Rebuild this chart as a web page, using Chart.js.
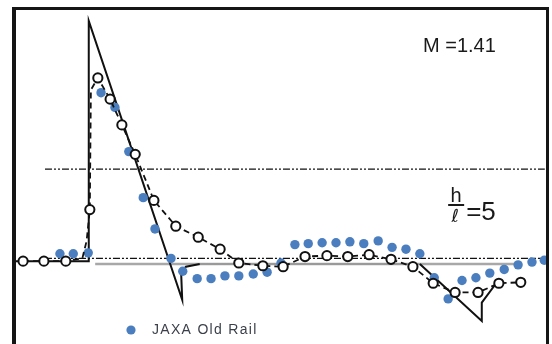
<!DOCTYPE html>
<html>
<head>
<meta charset="utf-8">
<script src="https://cdn.jsdelivr.net/npm/chart.js@4/dist/chart.umd.min.js"></script>
<style>
  html, body { margin: 0; padding: 0; background: #fff; }
  #wrap { width: 552px; height: 344px; position: relative; }
</style>
</head>
<body>
<div id="wrap"><canvas id="c"></canvas></div>
<script>
// Pressure signature, M = 1.41, h/l = 5  (x: station, y: normalised overpressure)

// Theoretical N-wave (solid line)
const theoryX = [0, 13.9, 14.0, 31.5, 31.3, 32.2, 34.8, 76.0, 87.6, 87.6, 90.3];
const theoryY = [0, 0, 2.61, -0.42, -0.13, -0.06, -0.03, -0.03, -0.65, -0.45, -0.24];

// Earlier measurement (open circles, dashed line); vertices without a marker are
// bends of the faired curve
const circleX = [1.7, 5.6, 9.7, 12.8, 13.6, 14.2, 14.4, 15.7, 18.0, 20.2, 22.7, 26.2, 30.3, 34.5, 38.6, 42.1,
                 46.6, 50.4, 54.5, 58.6, 62.5, 66.5, 70.6, 74.7, 78.5, 82.6, 86.9, 90.8, 94.9];
const circleY = [0, 0, 0, 0.03, 0.22, 0.56, 1.86, 1.99, 1.76, 1.48, 1.16, 0.66, 0.38, 0.26, 0.13, -0.02,
                 -0.05, -0.06, 0.05, 0.06, 0.05, 0.07, 0.02, -0.06, -0.24, -0.34, -0.34, -0.24, -0.23];
const circleMarked = [1, 1, 1, 0, 0, 1, 0, 1, 1, 1, 1, 1, 1, 1, 1, 1,
                      1, 1, 1, 1, 1, 1, 1, 1, 1, 1, 1, 1, 1];

// JAXA Old Rail measurement (blue dots)
const jaxaX = [8.6, 11.1, 13.9, 16.3, 18.9, 21.5, 24.2, 26.4, 29.4, 31.6, 34.3, 36.9, 39.5, 42.1,
               44.8, 47.4, 50.0, 52.6, 55.1, 57.7, 60.3, 62.9, 65.5, 68.2, 70.8, 73.4, 76.0, 78.7,
               81.3, 83.9, 86.5, 89.1, 91.8, 94.4, 97.0, 99.3];
const jaxaY = [0.08, 0.08, 0.09, 1.83, 1.67, 1.19, 0.69, 0.35, 0.03, -0.11, -0.19, -0.19, -0.16, -0.16,
               -0.14, -0.12, -0.02, 0.18, 0.19, 0.20, 0.20, 0.21, 0.19, 0.22, 0.15, 0.13, 0.08, -0.18,
               -0.41, -0.21, -0.18, -0.13, -0.09, -0.04, -0.01, 0.01];

// Reference levels (dash-dot-dot) and the grey zero line
const refLevels = [1.0, 0.03];
const refSpan = [5.8, 99.4];
const zeroLineSpan = [15.2, 94.4];
const zeroLineLevel = -0.03;

const labelSeries = 'JAXA Old Rail';
const machLabel = 'M =1.41';

const pts = (xs, ys) => xs.map((x, i) => ({ x, y: ys[i] }));

const datasets = [
  {
    label: 'circles',
    data: pts(circleX, circleY),
    showLine: true,
    borderColor: '#111',
    borderWidth: 1.8,
    borderDash: [6, 4],
    pointRadius: circleMarked.map(m => m ? 4.6 : 0),
    pointBorderWidth: circleMarked.map(m => m ? 2 : 0),
    pointBorderColor: '#111',
    pointBackgroundColor: '#fff',
    order: 0
  },
  {
    label: labelSeries,
    data: pts(jaxaX, jaxaY),
    showLine: false,
    pointRadius: 4.7,
    pointBorderWidth: 0,
    pointBackgroundColor: '#4a7ebf',
    order: 1
  },
  {
    label: 'theory',
    data: pts(theoryX, theoryY),
    showLine: true,
    borderColor: '#111',
    borderWidth: 2,
    pointRadius: 0,
    segment: {
      borderColor: ctx => ctx.p0DataIndex === 6 ? '#9a9a9a' : '#111'
    },
    order: 2
  },
  {
    label: 'zero',
    data: pts(zeroLineSpan, [zeroLineLevel, zeroLineLevel]),
    showLine: true,
    borderColor: '#a8a8a8',
    borderWidth: 2.5,
    pointRadius: 0,
    order: 3
  }
];
refLevels.forEach((lv, i) => datasets.push({
  label: 'ref' + i,
  data: pts(refSpan, [lv, lv]),
  showLine: true,
  borderColor: '#111',
  borderWidth: 1.4,
  borderDash: [7, 2, 2, 2, 2, 2],
  pointRadius: 0,
  order: 4
}));

// Frame, annotations and legend entry
const decor = {
  id: 'decor',
  afterDraw(chart) {
    const { ctx, scales: { x, y } } = chart;
    ctx.save();
    // frame: left, top, right
    ctx.fillStyle = '#151515';
    ctx.fillRect(12, 7, 4, 337);
    ctx.fillRect(12, 7, 537, 3);
    ctx.fillRect(546, 7, 3, 337);

    ctx.fillStyle = '#1a1a1a';
    ctx.textBaseline = 'middle';
    ctx.textAlign = 'left';
    ctx.font = '20px "Liberation Sans", Arial, sans-serif';
    ctx.fillText(machLabel, x.getPixelForValue(76.6), y.getPixelForValue(2.33));

    // h / l = 5
    const fx = x.getPixelForValue(82.8);
    const fy = y.getPixelForValue(0.61);
    ctx.textAlign = 'center';
    ctx.textBaseline = 'alphabetic';
    ctx.font = '20px "Liberation Sans", Arial, sans-serif';
    ctx.fillText('h', fx, fy - 3);
    ctx.fillRect(fx - 8, fy - 1, 16, 2);
    ctx.font = 'italic 18px "DejaVu Sans", sans-serif';
    ctx.fillText('ℓ', fx - 1, fy + 17);
    ctx.textAlign = 'left';
    ctx.textBaseline = 'middle';
    ctx.font = '26px "Liberation Sans", Arial, sans-serif';
    ctx.fillText('=5', fx + 10, fy + 8);

    // legend entry
    ctx.fillStyle = '#4a7ebf';
    ctx.beginPath();
    ctx.arc(131, 330, 4.6, 0, Math.PI * 2);
    ctx.fill();
    ctx.fillStyle = '#3a3f4a';
    ctx.font = '14px "Liberation Sans", Arial, sans-serif';
    ctx.letterSpacing = '1.3px';
    ctx.fillText(labelSeries, 152, 330);
    ctx.restore();
  }
};

new Chart(document.getElementById('c'), {
  type: 'scatter',
  data: { datasets },
  options: {
    responsive: true,
    maintainAspectRatio: false,
    animation: false,
    layout: { autoPadding: false, padding: { left: 14, right: 4, top: 8, bottom: 0 } },
    plugins: { legend: { display: false }, tooltip: { enabled: false } },
    scales: {
      x: { type: 'linear', min: 0, max: 100, display: false },
      y: { type: 'linear', min: -0.9, max: 2.75, display: false }
    }
  },
  plugins: [decor]
});
</script>
</body>
</html>
